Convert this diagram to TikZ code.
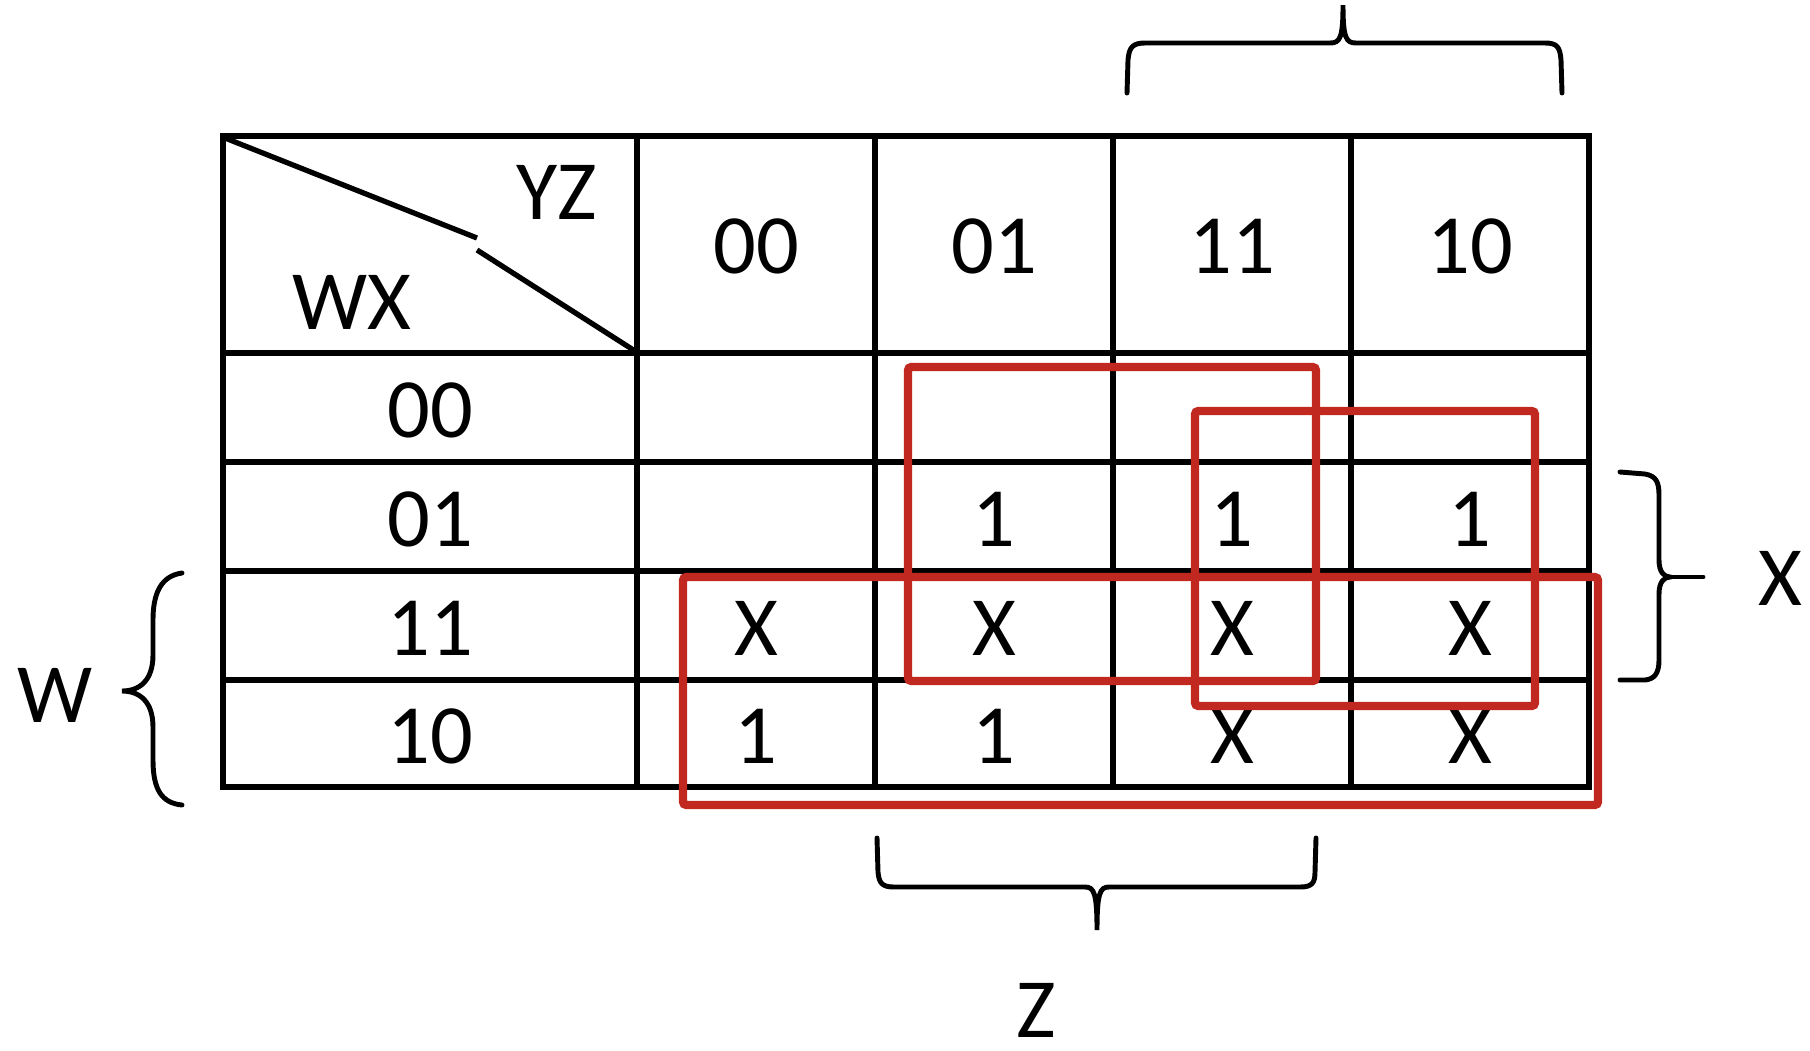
\documentclass[tikz,border=0pt]{standalone}
\usepackage{fontspec}
\setmainfont{Carlito}
\definecolor{kred}{RGB}{192,40,32}
\begin{document}
\begin{tikzpicture}[
        x = 1cm,
        y = -1cm,
        font = \fontsize{24}{28}\selectfont,
        inner sep = 1pt,
        gridline/.style = {line width = 1.45pt, line cap = rect},
        implicant/.style = {draw = kred, line width = 2.4pt, rounded corners = 1pt},
        bracestroke/.style = {line width = 1.4pt, line cap = round}
    ]
        \useasboundingbox (0,0) rectangle (18.10,10.50);
        % table
        \draw[gridline] (2.23,1.36)--(15.89,1.36);
        \draw[gridline] (2.23,3.53)--(15.89,3.53);
        \draw[gridline] (2.23,4.62)--(15.89,4.62);
        \draw[gridline] (2.23,5.71)--(15.89,5.71);
        \draw[gridline] (2.23,6.80)--(15.89,6.80);
        \draw[gridline] (2.23,7.87)--(15.89,7.87);
        \draw[gridline] ( 2.23,1.36)--( 2.23,7.87);
        \draw[gridline] ( 6.37,1.36)--( 6.37,7.87);
        \draw[gridline] ( 8.75,1.36)--( 8.75,7.87);
        \draw[gridline] (11.13,1.36)--(11.13,7.87);
        \draw[gridline] (13.51,1.36)--(13.51,7.87);
        \draw[gridline] (15.89,1.36)--(15.89,7.87);
        % corner cell
        \draw[line width = 1.5pt] (2.25,1.38)--(4.77,2.38);
        \draw[line width = 1.5pt] (4.77,2.50)--(6.35,3.51);
        \node (yz) at (5.57,1.92) {YZ};
        \node (wx) at (3.52,3.02) {WX};
        % headers
        \node (h00) at ( 7.56,2.46) {00};
        \node (h01) at ( 9.94,2.46) {01};
        \node (h11) at (12.32,2.46) {11};
        \node (h10) at (14.70,2.46) {10};
        \node (r00) at (4.30,4.10) {00};
        \node (r01) at (4.30,5.19) {01};
        \node (r11) at (4.30,6.28) {11};
        \node (r10) at (4.30,7.36) {10};
        % cells
        \node (c0101) at ( 9.94,5.19) {1};
        \node (c0111) at (12.32,5.19) {1};
        \node (c0110) at (14.70,5.19) {1};
        \node (c1100) at ( 7.56,6.28) {X};
        \node (c1101) at ( 9.94,6.28) {X};
        \node (c1111) at (12.32,6.28) {X};
        \node (c1110) at (14.70,6.28) {X};
        \node (c1000) at ( 7.56,7.36) {1};
        \node (c1001) at ( 9.94,7.36) {1};
        \node (c1011) at (12.32,7.36) {X};
        \node (c1010) at (14.70,7.36) {X};
        % groups
        \draw[implicant] ( 9.08,3.67) rectangle (13.16,6.81);
        \draw[implicant] (11.95,4.11) rectangle (15.35,7.06);
        \draw[implicant] ( 6.83,5.77) rectangle (15.98,8.05);
        % braces
        \draw[bracestroke] (11.27,0.93)--(11.28,0.60) .. controls (11.29,0.47) and (11.33,0.43) .. (11.45,0.43)
            --(13.30,0.43) .. controls (13.40,0.43) and (13.43,0.38) .. (13.43,0.05)
            .. controls (13.43,0.38) and (13.46,0.43) .. (13.56,0.43)
            --(15.45,0.43) .. controls (15.57,0.43) and (15.60,0.47) .. (15.61,0.60)--(15.62,0.93);
        \draw[bracestroke] (16.20,4.72)--(16.45,4.74) .. controls (16.56,4.76) and (16.59,4.82) .. (16.59,4.95)
            --(16.59,5.60) .. controls (16.59,5.72) and (16.64,5.77) .. (16.70,5.77)
            .. controls (16.64,5.77) and (16.59,5.82) .. (16.59,5.94)
            --(16.59,6.60) .. controls (16.59,6.74) and (16.54,6.79) .. (16.45,6.80)--(16.20,6.80);
        \draw[bracestroke] (16.70,5.77)--(17.03,5.77);
        \draw[bracestroke] (1.82,5.73) .. controls (1.60,5.76) and (1.53,5.95) .. (1.53,6.20)
            --(1.53,6.55) .. controls (1.53,6.80) and (1.40,6.91) .. (1.22,6.91)
            .. controls (1.40,6.91) and (1.53,7.02) .. (1.53,7.27)
            --(1.53,7.60) .. controls (1.53,7.90) and (1.62,8.03) .. (1.82,8.05);
        \draw[bracestroke] (8.77,8.38)--(8.78,8.72) .. controls (8.79,8.83) and (8.82,8.87) .. (8.94,8.87)
            --(10.85,8.87) .. controls (10.94,8.87) and (10.97,8.93) .. (10.97,9.30)
            .. controls (10.97,8.93) and (11.00,8.87) .. (11.09,8.87)
            --(13.00,8.87) .. controls (13.12,8.87) and (13.15,8.83) .. (13.15,8.72)--(13.16,8.38);
        % labels
        \node (w) at (0.55,6.95) {W};
        \node (x) at (17.80,5.78) {X};
        \node (z) at (10.36,10.10) {Z};
    \end{tikzpicture}
\end{document}
